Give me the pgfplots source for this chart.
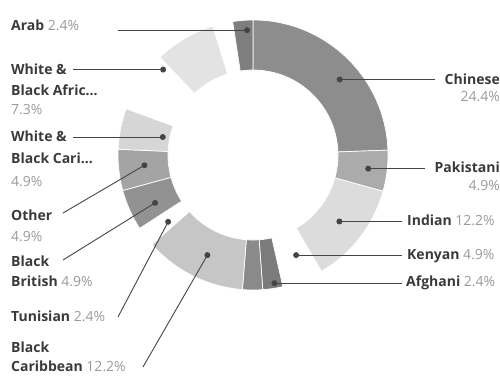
\documentclass[border=0pt]{standalone}
\usepackage{pgfplots}
\pgfplotsset{compat=1.18}
\usepackage{pgfplotstable}
\usepackage{fontspec}
\setmainfont{Open Sans}

\definecolor{cChinese}{HTML}{8D8D8D}
\definecolor{cPak}{HTML}{ABABAB}
\definecolor{cInd}{HTML}{DCDCDC}
\definecolor{cKen}{HTML}{FFFFFF}
\definecolor{cAfg}{HTML}{7B7B7B}
\definecolor{cHa}{HTML}{8A8A8A}
\definecolor{cBC}{HTML}{C6C6C6}
\definecolor{cTun}{HTML}{FFFFFF}
\definecolor{cBB}{HTML}{929292}
\definecolor{cOth}{HTML}{A4A4A4}
\definecolor{cWBC}{HTML}{D6D6D6}
\definecolor{cHb}{HTML}{FFFFFF}
\definecolor{cWBA}{HTML}{E3E3E3}
\definecolor{cHc}{HTML}{FFFFFF}
\definecolor{cArab}{HTML}{7E7E7E}
\definecolor{namec}{HTML}{3A3A3A}
\definecolor{pctc}{HTML}{9A9A9A}
\definecolor{linec}{HTML}{444444}

\newcommand\nm[1]{{\bfseries\color{namec}#1}}
\newcommand\pc[1]{{\color{pctc}#1}}

% slices clockwise from 12 o'clock; doff/dr place the label dot
\pgfplotstableread{
label value col doff dr
Chinese 24.4 cChinese 5 115
Pakistani 4.9 cPak 0 116
Indian 12.2 cInd 0 109
Kenyan 4.9 cKen -1.7 109
Afghani 2.4 cAfg -1 130
HiddenA 2.4 cHa 0 0
BlackCaribbean 12.2 cBC -2 110
Tunisian 2.4 cTun -1 108
BlackBritish 4.9 cBB -2 109
Other 4.9 cOth 1 109
WBCari 4.9 cWBC 0 92
HiddenB 7.3 cHb 0 0
WBAfric 7.3 cWBA -16 124
HiddenC 2.4 cHc 0 0
Arab 2.4 cArab 1.6 125
}\slices

\begin{document}
\begin{tikzpicture}
\begin{axis}[x=1bp, y=1bp, xmin=0, xmax=500, ymin=0, ymax=376,
  y dir=reverse, hide axis, clip=false, at={(0,0)}, anchor=south west]
\pgfplotsextra{%
  \pgfplotstablegetrowsof{\slices}%
  \pgfmathtruncatemacro\nlast{\pgfplotsretval-1}%
  \gdef\cum{0}%
  \foreach \i in {0,...,\nlast}{%
    \pgfplotstablegetelem{\i}{value}\of\slices \let\v\pgfplotsretval
    \pgfplotstablegetelem{\i}{col}\of\slices \let\c\pgfplotsretval
    \pgfplotstablegetelem{\i}{label}\of\slices \let\lab\pgfplotsretval
    \pgfplotstablegetelem{\i}{doff}\of\slices \let\doff\pgfplotsretval
    \pgfplotstablegetelem{\i}{dr}\of\slices \let\dr\pgfplotsretval
    \pgfmathsetmacro\pa{90-\cum/99.9*360}%
    \pgfmathsetmacro\pb{90-(\cum+\v)/99.9*360}%
    \pgfmathsetmacro\pbb{\pb+180}%
    \pgfmathsetmacro\pmid{(\pa+\pb)/2-\doff}%
    \fill[\c, draw=white, line width=0.7bp] (axis cs:253,155) ++(\pa:135bp)
      arc[start angle=\pa, end angle=\pb, radius=135bp] -- ++(\pbb:50bp)
      arc[start angle=\pb, end angle=\pa, radius=85bp] -- cycle;
    \path (axis cs:253,155) ++(\pmid:\dr bp) coordinate (d\lab);
    \pgfmathsetmacro\nc{\cum+\v}\xdef\cum{\nc}%
  }%
  \path (axis cs:435,0) coordinate (rxA) (axis cs:425,0) coordinate (rxB)
        (axis cs:402,0) coordinate (rxC) (axis cs:118,0) coordinate (rxD)
        (axis cs:73,0) coordinate (rxE);
  \begin{scope}[draw=linec, line width=0.9bp]
  \draw (dChinese) -- (dChinese -| rxA);
  \draw (dPakistani) -- (dPakistani -| rxB);
  \draw (dIndian) -- (dIndian -| rxC);
  \draw (dKenyan) -- (dKenyan -| rxC);
  \draw (dAfghani) -- (dAfghani -| rxC);
  \draw (dArab -| rxD) -- (dArab);
  \draw (dWBAfric -| rxE) -- (dWBAfric);
  \draw (dWBCari -| rxE) -- (dWBCari);
  \draw (axis cs:63,213) -- (dOther);
  \draw (axis cs:63,260) -- (dBlackBritish);
  \draw (axis cs:118,317) -- (dTunisian);
  \draw (axis cs:143,367) -- (dBlackCaribbean);
  \end{scope}
  \foreach \dn in {dChinese,dPakistani,dIndian,dKenyan,dAfghani,dArab,dWBAfric,dWBCari,dOther,dBlackBritish,dTunisian,dBlackCaribbean}{%
    \fill[linec] (\dn) circle[radius=3bp];
  }%
}
\begin{scope}[every node/.style={inner sep=0pt, font=\fontsize{14bp}{16bp}\selectfont}]
% right
\node[anchor=base east] at (axis cs:500,84.7) {\nm{Chinese}};
\node[anchor=base east] at (axis cs:500,101.7) {\pc{24.4\%}};
\node[anchor=base east] at (axis cs:500,172.7) {\nm{Pakistani}};
\node[anchor=base east] at (axis cs:500,190.7) {\pc{4.9\%}};
\node[anchor=base west] at (axis cs:407,225.7) {\nm{Indian} \pc{12.2\%}};
\node[anchor=base west] at (axis cs:407,259.7) {\nm{Kenyan} \pc{4.9\%}};
\node[anchor=base west] at (axis cs:406,286.7) {\nm{Afghani} \pc{2.4\%}};
% left
\node[anchor=base west] at (axis cs:11,30.7) {\nm{Arab} \pc{2.4\%}};
\node[anchor=base west] at (axis cs:11,74.7) {\nm{White \&}};
\node[anchor=base west] at (axis cs:11,95.7) {\nm{Black Afric…}};
\node[anchor=base west] at (axis cs:11,114.7) {\pc{7.3\%}};
\node[anchor=base west] at (axis cs:11,141.7) {\nm{White \&}};
\node[anchor=base west] at (axis cs:11,163.7) {\nm{Black Cari…}};
\node[anchor=base west] at (axis cs:11,186.7) {\pc{4.9\%}};
\node[anchor=base west] at (axis cs:11,220.7) {\nm{Other}};
\node[anchor=base west] at (axis cs:11,241.7) {\pc{4.9\%}};
\node[anchor=base west] at (axis cs:11,266.7) {\nm{Black}};
\node[anchor=base west] at (axis cs:11,286.7) {\nm{British} \pc{4.9\%}};
\node[anchor=base west] at (axis cs:11,321.7) {\nm{Tunisian} \pc{2.4\%}};
\node[anchor=base west] at (axis cs:11,352.7) {\nm{Black}};
\node[anchor=base west] at (axis cs:11,371.8) {\nm{Caribbean} \pc{12.2\%}};
\end{scope}
\end{axis}
\pgfresetboundingbox
\path[use as bounding box] (0,0) rectangle (500bp,376bp);
\end{tikzpicture}
\end{document}
